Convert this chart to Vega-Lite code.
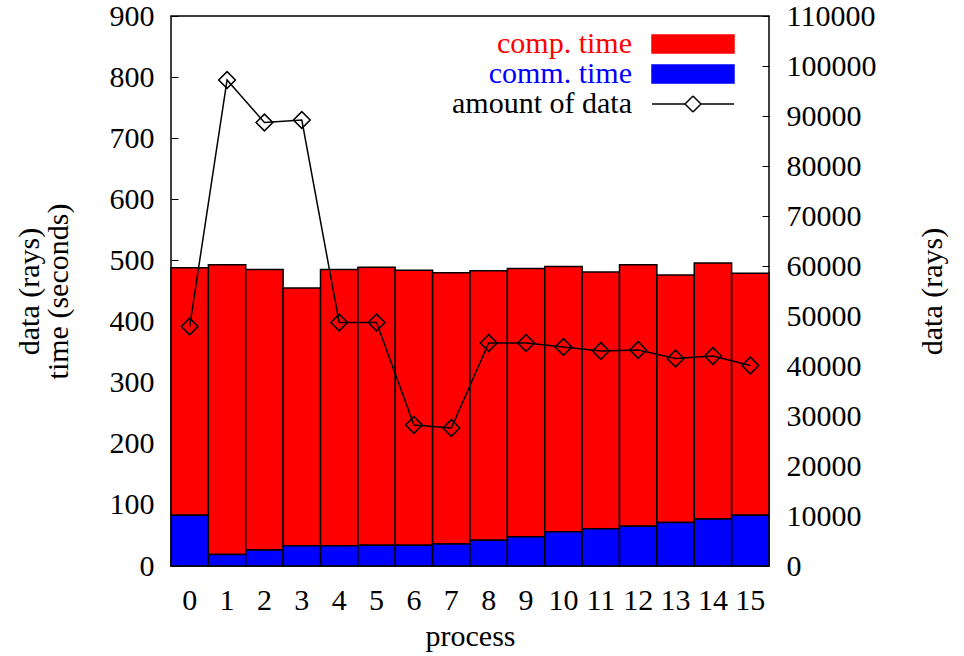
{
  "$schema": "https://vega.github.io/schema/vega-lite/v6.json",
  "width": 598,
  "height": 550,
  "autosize": "none",
  "padding": {"left": 171, "top": 16, "right": 195, "bottom": 90},
  "background": "white",
  "datasets": {
    "times": [
      {"process": 0, "series": "comp. time", "seconds": 405}, {"process": 0, "series": "comm. time", "seconds": 83},
      {"process": 1, "series": "comp. time", "seconds": 474}, {"process": 1, "series": "comm. time", "seconds": 19},
      {"process": 2, "series": "comp. time", "seconds": 459}, {"process": 2, "series": "comm. time", "seconds": 26},
      {"process": 3, "series": "comp. time", "seconds": 422}, {"process": 3, "series": "comm. time", "seconds": 33},
      {"process": 4, "series": "comp. time", "seconds": 452}, {"process": 4, "series": "comm. time", "seconds": 33},
      {"process": 5, "series": "comp. time", "seconds": 455}, {"process": 5, "series": "comm. time", "seconds": 34},
      {"process": 6, "series": "comp. time", "seconds": 450}, {"process": 6, "series": "comm. time", "seconds": 34},
      {"process": 7, "series": "comp. time", "seconds": 444}, {"process": 7, "series": "comm. time", "seconds": 36},
      {"process": 8, "series": "comp. time", "seconds": 441}, {"process": 8, "series": "comm. time", "seconds": 42},
      {"process": 9, "series": "comp. time", "seconds": 439}, {"process": 9, "series": "comm. time", "seconds": 48},
      {"process": 10, "series": "comp. time", "seconds": 434}, {"process": 10, "series": "comm. time", "seconds": 56},
      {"process": 11, "series": "comp. time", "seconds": 420}, {"process": 11, "series": "comm. time", "seconds": 61},
      {"process": 12, "series": "comp. time", "seconds": 428}, {"process": 12, "series": "comm. time", "seconds": 65},
      {"process": 13, "series": "comp. time", "seconds": 405}, {"process": 13, "series": "comm. time", "seconds": 71},
      {"process": 14, "series": "comp. time", "seconds": 419}, {"process": 14, "series": "comm. time", "seconds": 77},
      {"process": 15, "series": "comp. time", "seconds": 396}, {"process": 15, "series": "comm. time", "seconds": 83}
    ],
    "rays": [
      {"process": 0, "rays": 47900}, {"process": 1, "rays": 97200}, {"process": 2, "rays": 88700}, {"process": 3, "rays": 89200},
      {"process": 4, "rays": 48700}, {"process": 5, "rays": 48700}, {"process": 6, "rays": 28200}, {"process": 7, "rays": 27600},
      {"process": 8, "rays": 44600}, {"process": 9, "rays": 44600}, {"process": 10, "rays": 43800}, {"process": 11, "rays": 43000},
      {"process": 12, "rays": 43200}, {"process": 13, "rays": 41500}, {"process": 14, "rays": 42000}, {"process": 15, "rays": 40100}
    ]
  },
  "layer": [
    {
      "data": {"name": "times"},
      "mark": {"type": "bar", "stroke": "black", "strokeWidth": 1.5, "opacity": 1},
      "encoding": {
        "x": {"field": "process", "type": "ordinal", "scale": {"paddingInner": 0, "paddingOuter": 0},
              "axis": {"title": "process", "labelAngle": 0, "tickSize": -7, "labelPadding": 26, "titlePadding": 6}},
        "y": {"field": "seconds", "type": "quantitative", "stack": "zero", "scale": {"domain": [0, 900], "nice": false},
              "axis": {"title": ["data (rays)", "time (seconds)"], "values": [0,100,200,300,400,500,600,700,800,900],
                       "tickSize": -7, "labelPadding": 24, "titlePadding": 36, "titleLineHeight": 29}},
        "color": {"field": "series", "type": "nominal",
                  "scale": {"domain": ["comp. time", "comm. time", "amount of data"], "range": ["#ff0000", "#0000ff", "#000000"]},
                  "legend": {
                    "title": null, "orient": "none", "legendX": 507, "legendY": 13, "padding": 0, "rowPadding": 0,
                    "labelFont": "Liberation Serif", "labelFontSize": 30, "labelLimit": 0,
                    "labelAlign": "right", "labelOffset": -76,
                    "labelColor": {"expr": "datum.value === 'comp. time' ? '#ff0000' : datum.value === 'comm. time' ? '#0000ff' : '#000000'"},
                    "symbolType": {"expr": "datum.value === 'amount of data' ? 'M-4.1,0H-0.8M0.8,0H4.1M-0.8,0L0,-0.8M0,-0.8L0.8,0M0.8,0L0,0.8M0,0.8L-0.8,0' : 'M-4.1,-0.9H4.1V0.9H-4.1Z'"},
                    "symbolSize": 400,
                    "symbolOpacity": 1,
                    "symbolStrokeColor": "#000000",
                    "symbolStrokeWidth": 1.5
                  }},
        "order": {"field": "series", "sort": "ascending"}
      }
    },
    {
      "data": {"name": "rays"},
      "layer": [
        {
          "mark": {"type": "line", "strokeWidth": 1.5},
          "encoding": {
            "x": {"field": "process", "type": "ordinal"},
            "y": {"field": "rays", "type": "quantitative", "scale": {"domain": [0, 110000], "nice": false},
                  "axis": {"title": "data (rays)", "orient": "right", "format": "d",
                           "values": [0,10000,20000,30000,40000,50000,60000,70000,80000,90000,100000,110000],
                           "tickSize": -7, "labelPadding": 24, "titlePadding": 41, "titleAngle": -90, "titleBaseline": "top"}},
            "color": {"datum": "amount of data", "legend": null}
          }
        },
        {
          "mark": {"type": "point", "shape": "diamond", "filled": false, "size": 280, "strokeWidth": 1.5, "opacity": 1},
          "encoding": {
            "x": {"field": "process", "type": "ordinal"},
            "y": {"field": "rays", "type": "quantitative"},
            "color": {"datum": "amount of data", "legend": null}
          }
        }
      ]
    }
  ],
  "resolve": {"scale": {"y": "independent"}},
  "config": {
    "font": "Liberation Serif",
    "view": {"stroke": "black", "strokeWidth": 1.5},
    "axis": {
      "labelFont": "Liberation Serif", "labelFontSize": 30, "labelColor": "black",
      "titleFont": "Liberation Serif", "titleFontSize": 30, "titleFontWeight": "normal", "titleColor": "black",
      "domain": false, "grid": false, "tickColor": "black", "tickWidth": 1
    }
  }
}
